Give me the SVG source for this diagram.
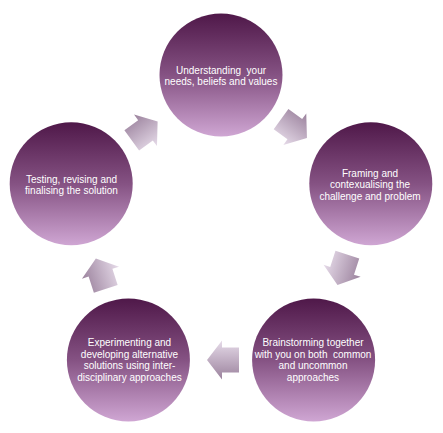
<svg xmlns="http://www.w3.org/2000/svg" width="443" height="433" viewBox="0 0 443 433">
<defs>
<linearGradient id="cg" x1="0" y1="0" x2="0" y2="1">
<stop offset="0" stop-color="#4f1849"/>
<stop offset="0.5" stop-color="#855283"/>
<stop offset="1" stop-color="#cfa6d3"/>
</linearGradient>
<linearGradient id="ag" x1="0.5" y1="0" x2="0.5" y2="1">
<stop offset="0" stop-color="#9b829d"/>
<stop offset="1" stop-color="#e6dbe9"/>
</linearGradient>
<path id="arr" d="M-17,-12.5 L0,-12.5 L0,-19.5 L15,0 L0,19.5 L0,12.5 L-17,12.5 Z"/>
</defs>
<style>
.c{fill:url(#cg);}
.a{fill:url(#ag);}
.t{font-family:"Liberation Sans",Arial,sans-serif;font-size:10px;fill:#ffffff;text-anchor:middle;white-space:pre;}
</style>
<rect width="443" height="433" fill="#ffffff"/>
<g id="connectors">
<use href="#arr" class="a" transform="translate(145.5,130.3) rotate(-36)"/>
<use href="#arr" class="a" transform="translate(294.8,129.2) rotate(36)"/>
<use href="#arr" class="a" transform="translate(342.1,270.8) rotate(108)"/>
<use href="#arr" class="a" transform="translate(222,360) rotate(180)"/>
<use href="#arr" class="a" transform="translate(100.5,272.7) rotate(252)"/>
</g>
<g id="node-understanding">
<circle class="c" cx="221" cy="75" r="61.5"/>
<text class="t" x="221" y="74.2">Understanding  your</text>
<text class="t" x="221" y="85.2">needs, beliefs and values</text>
</g>
<g id="node-framing">
<circle class="c" cx="370.8" cy="183.8" r="61.5"/>
<text class="t" x="370" y="176.8">Framing and</text>
<text class="t" x="370" y="188.3">contexualising the</text>
<text class="t" x="370" y="199.8">challenge and problem</text>
</g>
<g id="node-brainstorming">
<circle class="c" cx="313.6" cy="359.9" r="61.5"/>
<text class="t" x="313" y="346">Brainstorming together</text>
<text class="t" x="313" y="357.5">with you on both  common</text>
<text class="t" x="313" y="369">and uncommon</text>
<text class="t" x="313" y="380.5">approaches</text>
</g>
<g id="node-experimenting">
<circle class="c" cx="128.4" cy="359.9" r="61.5"/>
<text class="t" x="129.5" y="346.2">Experimenting and</text>
<text class="t" x="129.5" y="357.7">developing alternative</text>
<text class="t" x="129.5" y="369.4">solutions using inter-</text>
<text class="t" x="129.5" y="381">disciplinary approaches</text>
</g>
<g id="node-testing">
<circle class="c" cx="71.2" cy="183.8" r="61.5"/>
<text class="t" x="71.5" y="182.5">Testing, revising and</text>
<text class="t" x="71.5" y="193.5">finalising the solution</text>
</g>
</svg>
